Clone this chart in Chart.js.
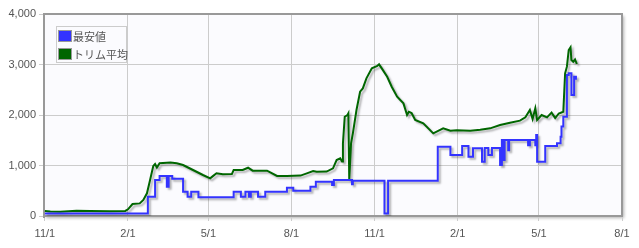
<!DOCTYPE html>
<html>
<head>
<meta charset="utf-8">
<script src="https://cdn.jsdelivr.net/npm/chart.js@4"></script>
<style>
  html, body { margin: 0; padding: 0; background: #fff; }
  #wrap { position: relative; width: 639px; height: 248px; }
  #legend {
    position: absolute; left: 56px; top: 26px; width: 69px; height: 35px;
    border: 1px solid #ccc; background: #fbfbfe;
    font: 11px Arial, 'Liberation Sans', 'Noto Sans CJK JP', sans-serif; color: #555;
  }
  .item { position: absolute; left: 1px; height: 13px; line-height: 13px; white-space: nowrap; }
  .box { display: inline-block; width: 12px; height: 10px; border: 1px solid #999; vertical-align: -1px; margin-right: 1px; }
</style>
</head>
<body>
<div id="wrap">
  <canvas id="chart" width="639" height="248"></canvas>
  <div id="legend"></div>
</div>
<script>
// days counted from the first 11/1
const TICK_DAYS = [0, 92, 181, 273, 365, 457, 547, 639];
const TICK_LABELS = ['11/1', '2/1', '5/1', '8/1', '11/1', '2/1', '5/1', '8/1'];

const SERIES_LABELS = ['最安値', 'トリム平均'];
const SERIES_COLORS = ['#3333ff', '#006600'];

const lowDays = [0, 114, 122, 127, 135, 137, 141, 153, 158, 162, 170, 209, 217, 222, 226, 228, 236, 244,
  268, 275, 294, 300, 318, 320, 340, 341, 376, 380, 435, 449, 462, 469, 474, 484, 487, 491, 495,
  504, 506, 508, 509, 513, 514, 535, 537, 543, 544, 545, 554, 567, 571, 572, 574, 578, 580, 583, 586, 588];
const lowValues = [50, 380, 715, 790, 580, 790, 740, 480, 380, 480, 370, 480, 380, 480, 380, 480, 380, 480,
  560, 500, 580, 680, 615, 713, 630, 700, 50, 700, 1372, 1208, 1386, 1175, 1340, 1075, 1347, 1208, 1347,
  1010, 1505, 1110, 1505, 1300, 1505, 1400, 1505, 1400, 1604, 1075, 1386, 1440, 1570, 1770, 1966, 2792, 2825, 2396, 2758, 2700];

const trimDays = [0, 6, 17, 35, 50, 72, 89, 92, 97, 105, 109, 113, 116, 120, 122, 124, 127, 139, 146, 153,
  164, 175, 183, 186, 190, 197, 207, 209, 219, 225, 230, 246, 257, 268, 283, 290, 297, 301, 312, 319,
  323, 327, 329, 330, 332, 335, 336, 337, 339, 341, 345, 349, 352, 356, 362, 368, 370, 373, 379, 384,
  390, 397, 401, 403, 406, 410, 419, 430, 441, 449, 456, 471, 482, 493, 504, 515, 526, 532, 537, 540,
  543, 545, 550, 556, 561, 565, 569, 574, 576, 578, 580, 582, 583, 585, 587, 589];
const trimValues = [100, 90, 85, 105, 100, 95, 100, 133, 238, 250, 317, 450, 680, 990, 1030, 960, 1043, 1060, 1043, 1010,
  911, 812, 746, 790, 845, 825, 830, 911, 911, 956, 897, 897, 792, 792, 800, 845, 891, 877, 880, 944,
  1109, 1142, 1080, 1440, 1966, 2000, 2033, 713, 1440, 1637, 2099, 2461, 2527, 2726, 2924, 2970, 3003, 2924, 2758, 2560,
  2362, 2231, 2000, 2065, 2040, 1900, 1835, 1637, 1736, 1690, 1700, 1690, 1710, 1736, 1802, 1848, 1888, 1954, 2099, 1920,
  2132, 1900, 2000, 1954, 2046, 1940, 2030, 2065, 2825, 2957, 3287, 3340, 3089, 3056, 3100, 3010];

const toPoints = (xs, ys) => xs.map((x, i) => ({ x, y: ys[i] }));

const plotFrame = {
  id: 'plotFrame',
  beforeDraw(chart) {
    const { ctx, chartArea: a } = chart;
    ctx.save();
    ctx.shadowColor = 'rgba(0,0,0,0.3)';
    ctx.shadowOffsetX = 2;
    ctx.shadowOffsetY = 2;
    ctx.shadowBlur = 3;
    ctx.fillStyle = '#fbfbfe';
    ctx.fillRect(a.left, a.top, a.width, a.height);
    ctx.restore();
  },
  beforeDatasetsDraw(chart) {
    const { ctx, chartArea: a } = chart;
    ctx.save();
    ctx.strokeStyle = '#999';
    ctx.lineWidth = 2;
    ctx.strokeRect(a.left, a.top, a.width, a.height);
    ctx.fillStyle = '#999';
    ctx.fillRect(a.left - 1, a.top, 2, a.height + 2);
    ctx.fillRect(a.left, a.bottom - 1, a.width, 2);
    ctx.restore();
  },
  beforeDatasetDraw(chart) {
    const ctx = chart.ctx;
    ctx.save();
    ctx.shadowColor = 'rgba(0,0,0,0.3)';
    ctx.shadowOffsetX = 2;
    ctx.shadowOffsetY = 2;
    ctx.shadowBlur = 2;
  },
  afterDatasetDraw(chart) {
    chart.ctx.restore();
  },
};

const tickFont = { family: "Arial, 'Liberation Sans', sans-serif", size: 11 };

new Chart(document.getElementById('chart'), {
  type: 'line',
  data: {
    datasets: [
      {
        label: SERIES_LABELS[0],
        data: toPoints(lowDays, lowValues),
        borderColor: SERIES_COLORS[0],
        backgroundColor: SERIES_COLORS[0],
        borderWidth: 2,
        stepped: true,
        pointRadius: 0,
      },
      {
        label: SERIES_LABELS[1],
        data: toPoints(trimDays, trimValues),
        borderColor: SERIES_COLORS[1],
        backgroundColor: SERIES_COLORS[1],
        borderWidth: 2,
        tension: 0,
        pointRadius: 0,
      },
    ],
  },
  options: {
    responsive: false,
    animation: false,
    layout: { padding: { top: 14, right: 17, left: 0, bottom: 0 } },
    scales: {
      x: {
        type: 'linear',
        min: -1,
        max: 639,
        afterBuildTicks: (axis) => { axis.ticks = TICK_DAYS.map((v) => ({ value: v })); },
        afterFit: (axis) => { axis.height = 32; },
        ticks: {
          autoSkip: false,
          maxRotation: 0,
          padding: 6,
          color: '#555',
          font: tickFont,
          callback: (v) => TICK_LABELS[TICK_DAYS.indexOf(v)],
        },
        grid: { color: '#ccc', tickLength: 5, drawTicks: true },
        border: { display: false },
      },
      y: {
        min: 0,
        max: 4000,
        afterFit: (axis) => { axis.width = 44; },
        ticks: {
          stepSize: 1000,
          padding: 3,
          color: '#555',
          font: tickFont,
          callback: (v) => v.toLocaleString('en-US'),
        },
        grid: { color: '#ccc', tickLength: 5 },
        border: { display: false },
      },
    },
    plugins: {
      legend: { display: false },
      tooltip: { enabled: false },
    },
  },
  plugins: [plotFrame],
});

const legend = document.getElementById('legend');
legend.innerHTML = SERIES_LABELS.map((label, i) =>
  `<div class="item" style="top:${3 + i * 18}px"><span class="box" style="background:${SERIES_COLORS[i]}"></span>${label}</div>`
).join('');
</script>
</body>
</html>
